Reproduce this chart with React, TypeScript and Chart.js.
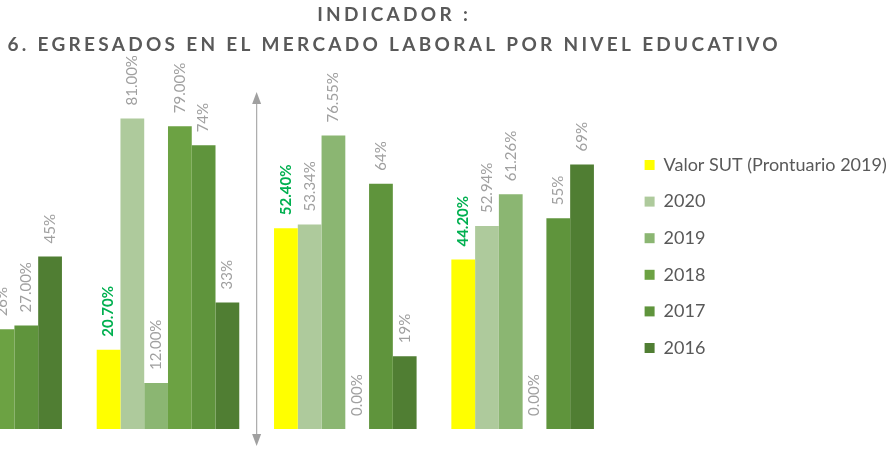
import React, { useEffect, useRef } from "react";
import { Chart, registerables } from "chart.js";

Chart.register(...registerables);

// ---- data ----
const categories = ["Nivel 1", "Nivel 2", "Nivel 3", "Nivel 4"];
const seriesNames = ["Valor SUT (Prontuario 2019)", "2020", "2019", "2018", "2017", "2016"];
const valorSUT = [null, 20.7, 52.4, 44.2];
const values2020 = [null, 81.0, 53.34, 52.94];
const values2019 = [null, 12.0, 76.55, 61.26];
const values2018 = [26, 79.0, 0.0, 0.0];
const values2017 = [27, 74, 64, 55];
const values2016 = [45, 33, 19, 69];
// decimals shown in each data label
const decimalsSUT = [2, 2, 2, 2];
const decimals2020 = [2, 2, 2, 2];
const decimals2019 = [2, 2, 2, 2];
const decimals2018 = [0, 2, 2, 2];
const decimals2017 = [2, 0, 0, 0];
const decimals2016 = [0, 0, 0, 0];
const titleLines = ["INDICADOR :", "6. EGRESADOS EN EL MERCADO LABORAL POR NIVEL EDUCATIVO"];

// ---- styles ----
const seriesColors = ["#FFFF00", "#AECA9C", "#8BB672", "#6CA243", "#5F943C", "#507E33"];
const TEXT_GRAY = "#595959";
const LABEL_GRAY = "#A0A0A0";
const SUT_LABEL = "#00B050";
const TITLE_SPACING = 3.3;

const allValues = [valorSUT, values2020, values2019, values2018, values2017, values2016];
const allDecimals = [decimalsSUT, decimals2020, decimals2019, decimals2018, decimals2017, decimals2016];

const titleSpacingPlugin = {
  id: "titleSpacing",
  beforeDraw(chart: any) {
    const tb = chart.titleBlock;
    if (tb && !tb.__spaced) {
      const orig = tb.draw;
      tb.draw = function (...args: any[]) {
        const ctx = chart.ctx;
        ctx.save();
        (ctx as any).letterSpacing = TITLE_SPACING + "px";
        ctx.translate(TITLE_SPACING / 2, 0);
        orig.apply(this, args);
        ctx.restore();
      };
      tb.__spaced = true;
    }
  },
};

const dataLabelPlugin = {
  id: "dataLabels",
  afterDatasetsDraw(chart: any) {
    const ctx = chart.ctx;
    chart.data.datasets.forEach((ds: any, di: number) => {
      const meta = chart.getDatasetMeta(di);
      meta.data.forEach((el: any, i: number) => {
        const v = ds.data[i];
        if (v === null || v === undefined) return;
        const text = Number(v).toFixed(allDecimals[di][i]) + "%";
        ctx.save();
        ctx.translate(el.x, el.y - 13);
        ctx.rotate(-Math.PI / 2);
        ctx.font = di === 0 ? "bold 15px Lato" : "15px Lato";
        ctx.fillStyle = di === 0 ? SUT_LABEL : LABEL_GRAY;
        ctx.textAlign = "left";
        ctx.textBaseline = "middle";
        ctx.fillText(text, 0, 0);
        ctx.restore();
      });
    });
  },
};

const arrowPlugin = {
  id: "dividerArrow",
  afterDatasetsDraw(chart: any) {
    const ctx = chart.ctx;
    const xs = chart.scales.x;
    const area = chart.chartArea;
    const x = (xs.getPixelForValue(1) + xs.getPixelForValue(2)) / 2;
    const top = area.top + 8;
    const bottom = area.bottom + 17;
    const headH = 12;
    const headW = 4.5;
    ctx.save();
    ctx.strokeStyle = "#ABABAB";
    ctx.fillStyle = "#A0A0A0";
    ctx.lineWidth = 1.2;
    ctx.beginPath();
    ctx.moveTo(x, top + headH - 1);
    ctx.lineTo(x, bottom - headH + 1);
    ctx.stroke();
    ctx.beginPath();
    ctx.moveTo(x, top);
    ctx.lineTo(x - headW, top + headH);
    ctx.lineTo(x + headW, top + headH);
    ctx.closePath();
    ctx.fill();
    ctx.beginPath();
    ctx.moveTo(x, bottom);
    ctx.lineTo(x - headW, bottom - headH);
    ctx.lineTo(x + headW, bottom - headH);
    ctx.closePath();
    ctx.fill();
    ctx.restore();
  },
};

export default function App() {
  const ref = useRef<HTMLCanvasElement>(null);

  useEffect(() => {
    if (!ref.current) return;
    const chart = new Chart(ref.current, {
      type: "bar",
      data: {
        labels: categories,
        datasets: seriesNames.map((name, i) => ({
          label: name,
          data: allValues[i] as any,
          backgroundColor: seriesColors[i],
          borderWidth: 0,
          categoryPercentage: 0.804,
          barPercentage: 1,
          yAxisID: "y",
        })),
      },
      options: {
        responsive: false,
        animation: false,
        layout: { padding: { left: 0, right: 0, top: 0, bottom: 21 } },
        scales: {
          x: { display: false, grid: { display: false } },
          y: {
            display: true,
            position: "left",
            min: 0,
            max: 90,
            grid: { display: false },
            border: { display: false },
            ticks: { display: false },
            afterFit: (s: any) => {
              s.width = 6;
            },
          },
          yGap: {
            type: "linear",
            display: true,
            position: "right",
            grid: { display: false },
            border: { display: false },
            ticks: { display: false },
            afterFit: (s: any) => {
              s.width = 14.7;
            },
          },
        },
        plugins: {
          title: {
            display: true,
            text: titleLines,
            color: TEXT_GRAY,
            font: { family: "Lato", size: 19, weight: "bold", lineHeight: 29.5 / 19 },
            padding: { top: 0.5, bottom: 24.5 },
          },
          legend: {
            display: true,
            position: "right",
            align: "center",
            fullSize: false,
            maxWidth: 263,
            labels: {
              boxWidth: 10,
              boxHeight: 10,
              padding: 18.6,
              color: TEXT_GRAY,
              font: { family: "Lato", size: 18 },
            },
          },
          tooltip: { enabled: false },
        },
      } as any,
      plugins: [titleSpacingPlugin, dataLabelPlugin, arrowPlugin],
    });
    return () => chart.destroy();
  }, []);

  return (
    <div
      style={{
        position: "fixed",
        left: 0,
        top: 0,
        width: 889,
        height: 450,
        overflow: "hidden",
        background: "#ffffff",
      }}
    >
      <canvas
        ref={ref}
        width={993}
        height={450}
        style={{ position: "absolute", left: -104, top: 0, width: 993, height: 450 }}
      />
    </div>
  );
}
